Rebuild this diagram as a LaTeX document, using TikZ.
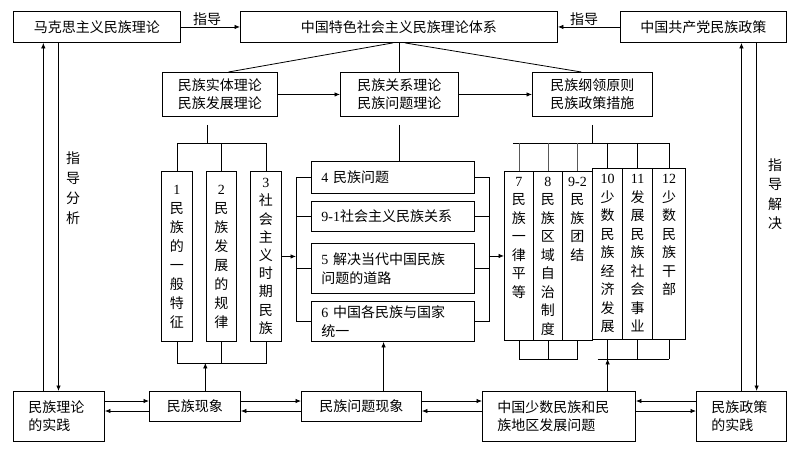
\documentclass[tikz,border=0pt]{standalone}
\usepackage{fontspec}
\setmainfont{Noto Sans CJK SC}
\newfontfamily\numf{Liberation Serif}
\usetikzlibrary{arrows.meta,calc}
\newcommand\dg[1]{{\numf #1}}
\newcommand\toptext[2]{\parbox[t][#1][t]{28pt}{\centering\rule{0pt}{15pt}#2}}
\begin{document}
\begin{tikzpicture}[x=1pt,y=-1pt,
  every node/.style={font=\fontsize{14}{18}\selectfont},
  box/.style={draw, line width=0.9pt, inner sep=0pt, anchor=north west, align=center},
  vl/.style={box, minimum height=170pt, font=\fontsize{14}{19}\selectfont},
  vr/.style={box, font=\fontsize{14}{18.5}\selectfont},
  mb/.style={box, align=left, text width=143pt, inner xsep=10pt},
  ln/.style={line width=0.8pt},
  arr/.style={line width=0.8pt, -{Latex[length=5.5pt,width=4.5pt]}},
  thinv/.style={line width=0.6pt, draw=black!65},
]
\useasboundingbox (0,0) rectangle (794,450);

% top row
\node[box, minimum width=167pt, minimum height=31pt] (mk) at (13,11) {马克思主义民族理论};
\node[box, minimum width=317pt, minimum height=31pt] (zt) at (240,11) {中国特色社会主义民族理论体系};
\node[box, minimum width=166pt, minimum height=31pt] (gc) at (620,11) {中国共产党民族政策};
\node (g1) at (207,19) {指导};
\node (g2) at (584,19) {指导};

% second row
\node[box, minimum width=115pt, minimum height=44pt] (ent) at (162,72) {民族实体理论\\民族发展理论};
\node[box, minimum width=118pt, minimum height=44pt] (rel) at (340,72) {民族关系理论\\民族问题理论};
\node[box, minimum width=120pt, minimum height=44pt] (pol) at (532,72) {民族纲领原则\\民族政策措施};

% left group
\node[vl, minimum width=31pt] (v1) at (161,171) {\dg{1}\\民\\族\\的\\一\\般\\特\\征};
\node[vl, minimum width=30pt] (v2) at (206,171) {\dg{2}\\民\\族\\发\\展\\的\\规\\律};
\node[vl, minimum width=31pt, font=\fontsize{14}{18.2}\selectfont] (v3) at (250,171) {\dg{3}\\社\\会\\主\\义\\时\\期\\民\\族};

% middle group
\node[mb, minimum height=32pt] (m4) at (311,161) {\dg{4} 民族问题};
\node[mb, minimum height=30pt] (m91) at (311,201) {\dg{9-1}社会主义民族关系};
\node[mb, minimum height=50pt, font=\fontsize{14}{19}\selectfont] (m5) at (311,243) {\dg{5} 解决当代中国民族\\问题的道路};
\node[mb, minimum height=40pt, font=\fontsize{14}{19}\selectfont] (m6) at (311,301) {\dg{6} 中国各民族与国家\\统一};

% right group
\node[vr, minimum width=29pt, minimum height=169pt] (v7) at (504,171) {\toptext{169pt}{\dg{7}\\民\\族\\一\\律\\平\\等}};
\node[vr, minimum width=29pt, minimum height=169pt] (v8) at (533,171) {\toptext{169pt}{\dg{8}\\民\\族\\区\\域\\自\\治\\制\\度}};
\node[vr, minimum width=30pt, minimum height=169pt] (v92) at (562,171) {\toptext{169pt}{\dg{9-2}\\民\\族\\团\\结}};
\node[vr, line width=1.2pt, minimum width=30pt, minimum height=171pt] (v10) at (592,168) {\toptext{171pt}{\rule{0pt}{3pt}\dg{10}\\少\\数\\民\\族\\经\\济\\发\\展}};
\node[vr, line width=1.2pt, minimum width=30pt, minimum height=171pt] (v11) at (622,168) {\toptext{171pt}{\rule{0pt}{3pt}\dg{11}\\发\\展\\民\\族\\社\\会\\事\\业}};
\node[vr, line width=1.2pt, minimum width=33pt, minimum height=171pt] (v12) at (652,168) {\toptext{171pt}{\rule{0pt}{3pt}\dg{12}\\少\\数\\民\\族\\干\\部}};

% bottom row
\node[box, minimum height=50pt, align=left, text width=61pt, inner xsep=15pt] (p1) at (13,391) {民族理论\\的实践};
\node[box, minimum width=91pt, minimum height=30pt] (p2) at (149,391) {民族现象};
\node[box, minimum width=120pt, minimum height=30pt] (p3) at (301,391) {民族问题现象};
\node[box, minimum height=50pt, align=left, text width=123pt, inner xsep=15pt] (p4) at (482,391) {中国少数民族和民\\族地区发展问题};
\node[box, minimum height=50pt, align=left, text width=60pt, inner xsep=15pt] (p5) at (696,391) {民族政策\\的实践};

% side labels
\node[align=center, font=\fontsize{14}{20}\selectfont] (g3) at (73,188) {指\\导\\分\\析};
\node[align=center, font=\fontsize{14}{19.5}\selectfont] (g4) at (775,194) {指\\导\\解\\决};

% top connectors
\draw[arr] (mk.east) -- (zt.west);
\draw[arr] (gc.west) -- (zt.east);
\draw[ln] ($(zt.south)+(-6,0)$) -- ($(ent.north west)!0.574!(ent.north east)$);
\draw[ln] (zt.south) -- (zt.south |- rel.north);
\draw[ln] ($(zt.south)+(6,0)$) -- ($(pol.north west)!0.408!(pol.north east)$);
\draw[arr] (ent.east) -- (rel.west);
\draw[arr] (rel.east) -- (pol.west);

% left group brackets
\coordinate (es) at ($(ent.south west)!0.391!(ent.south east)$);
\coordinate (lt) at ($(es)+(0,26)$);
\draw[ln, shorten <=8pt] (es) -- (lt);
\draw[ln] (v1.north) |- (v3.north |- lt) -- (v3.north);
\draw[ln] (v2.north) -- (v2.north |- lt);
\coordinate (lb) at ($(v1.south)+(0,21)$);
\draw[ln] (v1.south) |- (v3.south |- lb) -- (v3.south);
\draw[ln] (v2.south) -- (v2.south |- lb);
\coordinate (la) at ($(lt |- lb)+(-2,0)$);
\draw[arr] (p2.north -| la) -- (la);

% middle group brackets
\draw[ln, shorten <=8pt] (rel.south) -- (rel.south |- m4.north);
\coordinate (mlx) at ($(m4.west)+(-15,0)$);
\draw[ln] (m4.west) -- (mlx) |- (m6.west);
\draw[ln] (m91.west) -- (m91.west -| mlx);
\draw[ln] (m5.west) -- (m5.west -| mlx);
\draw[arr] (v3.east) -- (v3.east -| mlx);
\coordinate (mrx) at ($(m4.east)+(14,0)$);
\draw[ln] (m4.east) -- (mrx) |- (m6.east);
\draw[ln] (m91.east) -- (m91.east -| mrx);
\draw[ln] (m5.east) -- (m5.east -| mrx);
\draw[arr] (v7.west -| mrx) -- (v7.west);
\coordinate (p3a) at ($(p3.north west)!0.683!(p3.north east)$);
\draw[arr] (p3a) -- (p3a |- m6.south);

% right group brackets
\coordinate (ps) at (pol.south);
\coordinate (rt) at ($(ps)+(0,26)$);
\draw[ln, shorten <=8pt] (ps) -- (rt);
\draw[ln] ($(v7.north |- rt)+(-6,0)$) -- (v12.north |- rt);
\foreach \v in {v7,v8,v92} \draw[thinv] (\v.north |- rt) -- (\v.north);
\foreach \v in {v10,v11,v12} \draw[ln] (\v.north |- rt) -- (\v.north);
\coordinate (rb) at ($(v7.south)+(0,18)$);
\draw[ln] (v7.south) |- (v92.south |- rb) -- (v92.south);
\draw[ln] (v8.south) -- (v8.south |- rb);
\draw[ln] ($(v10.south |- rb)+(-10,0)$) -- (v12.south |- rb);
\foreach \v in {v10,v11,v12} \draw[ln] (\v.south) -- (\v.south |- rb);
\draw[arr] (p4.north -| v10.south) -- (v10.south |- rb);

% outer verticals
\coordinate (a1) at ($(p1.north west)!0.33!(p1.north east)$);
\coordinate (a2) at ($(p1.north west)!0.495!(p1.north east)$);
\draw[arr] (a1) -- (a1 |- mk.south);
\draw[arr] (a2 |- mk.south) -- (a2);
\coordinate (b1) at ($(p5.north west)!0.5!(p5.north east)$);
\coordinate (b2) at ($(p5.north west)!0.667!(p5.north east)$);
\draw[arr] (b1) -- (b1 |- gc.south);
\draw[arr] (b2 |- gc.south) -- (b2);

% bottom double arrows
\draw[arr] ([yshift=-10pt]p1.north east) -- ([yshift=-10pt]p2.north west);
\draw[arr] ([yshift=-20pt]p2.north west) -- ([yshift=-20pt]p1.north east);
\draw[arr] ([yshift=-10pt]p2.north east) -- ([yshift=-10pt]p3.north west);
\draw[arr] ([yshift=-20pt]p3.north west) -- ([yshift=-20pt]p2.north east);
\draw[arr] ([yshift=-10pt]p3.north east) -- ([yshift=-10pt]p4.north west);
\draw[arr] ([yshift=-20pt]p4.north west) -- ([yshift=-20pt]p3.north east);
\draw[arr] ([yshift=-10pt]p5.north west) -- ([yshift=-10pt]p4.north east);
\draw[arr] ([yshift=-20pt]p4.north east) -- ([yshift=-20pt]p5.north west);
\end{tikzpicture}
\end{document}
